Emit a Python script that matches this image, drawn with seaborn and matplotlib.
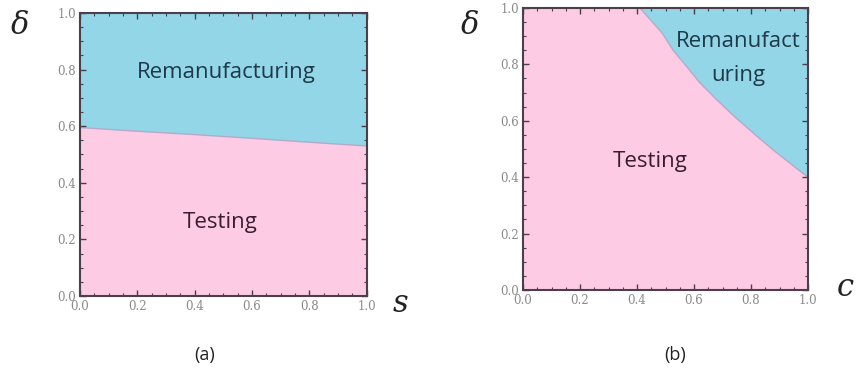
import numpy as np
import pandas as pd
import matplotlib.pyplot as plt
import seaborn as sns
from matplotlib.ticker import MultipleLocator

# boundary between regions
s_vals = [0.0, 0.2, 0.4, 0.6, 0.8, 1.0]
delta_a = [0.595, 0.582, 0.570, 0.557, 0.543, 0.530]

c_vals = [0.41, 0.488, 0.526, 0.575, 0.621, 0.68, 0.744, 0.808, 0.878, 0.98, 1.0]
delta_b = [1.00, 0.911, 0.851, 0.791, 0.734, 0.674, 0.613, 0.556, 0.496, 0.415, 0.40]

tick_vals = [0.0, 0.2, 0.4, 0.6, 0.8, 1.0]
tick_labels = ['0.0', '0.2', '0.4', '0.6', '0.8', '1.0']

blue = '#93d6e7'
pink = '#fdcbe4'
frame = '#4a3f4a'

sns.set_style('white')
plt.rcParams['font.family'] = ['Open Sans', 'DejaVu Sans']

fig = plt.figure(figsize=(8.56, 3.79), dpi=100)
ax_a = fig.add_axes([0.0935, 0.219, 0.335, 0.747])
ax_b = fig.add_axes([0.611, 0.235, 0.333, 0.744])


def style_axes(ax):
    ax.set_axisbelow(False)
    ax.set_xlim(0, 1)
    ax.set_ylim(0, 1)
    ax.set_xticks(tick_vals)
    ax.set_yticks(tick_vals)
    ax.set_xticklabels(tick_labels, family='DejaVu Serif', fontsize=8.5, color='#8a8a8a')
    ax.set_yticklabels(tick_labels, family='DejaVu Serif', fontsize=8.5, color='#8a8a8a')
    ax.xaxis.set_minor_locator(MultipleLocator(0.05))
    ax.yaxis.set_minor_locator(MultipleLocator(0.05))
    ax.tick_params(which='major', direction='in', length=4, width=1, color=frame,
                   top=True, right=True, bottom=True, left=True, pad=3)
    ax.tick_params(which='minor', direction='in', length=2, width=0.8, color=frame,
                   top=True, right=True, bottom=True, left=True)
    for sp in ax.spines.values():
        sp.set_color(frame)
        sp.set_linewidth(1.5)
        sp.set_zorder(5)
    ax.set_xlabel('')
    ax.set_ylabel('')


# panel (a)
df_a = pd.DataFrame({'s': s_vals, 'delta': delta_a})
ax_a.fill_between(df_a['s'], 0, df_a['delta'], color=pink, lw=0)
ax_a.fill_between(df_a['s'], df_a['delta'], 1, color=blue, lw=0)
sns.lineplot(data=df_a, x='s', y='delta', ax=ax_a, color='#b8a9c9', lw=1)
style_axes(ax_a)
ax_a.text(0.51, 0.79, 'Remanufacturing', ha='center', va='center', fontsize=16, color='#1d3a4a')
ax_a.text(0.49, 0.26, 'Testing', ha='center', va='center', fontsize=16, color='#3a1d33')

# panel (b)
df_b = pd.DataFrame({'c': c_vals, 'delta': delta_b})
ax_b.set_facecolor(pink)
ax_b.fill_between(df_b['c'], df_b['delta'], 1, color=blue, lw=0)
sns.lineplot(data=df_b, x='c', y='delta', ax=ax_b, color='#b8a9c9', lw=1)
style_axes(ax_b)
ax_b.text(0.755, 0.88, 'Remanufact', ha='center', va='center', fontsize=16, color='#1d3a4a')
ax_b.text(0.755, 0.76, 'uring', ha='center', va='center', fontsize=16, color='#1d3a4a')
ax_b.text(0.445, 0.455, 'Testing', ha='center', va='center', fontsize=16, color='#3a1d33')

# axis symbols and captions
sym = dict(family='DejaVu Serif', style='italic', fontsize=22, color='#222222',
           ha='center', va='center')
fig.text(20 / 856, 1 - 25 / 379, 'δ', **sym)
fig.text(400 / 856, 1 - 303 / 379, 's', **sym)
fig.text(470 / 856, 1 - 25 / 379, 'δ', **sym)
fig.text(845 / 856, 1 - 287 / 379, 'c', **sym)
fig.text(205 / 856, 1 - 355 / 379, '(a)', ha='center', va='center', fontsize=13, color='#222222')
fig.text(675 / 856, 1 - 355 / 379, '(b)', ha='center', va='center', fontsize=13, color='#222222')

fig.savefig('out.png', dpi=100)
